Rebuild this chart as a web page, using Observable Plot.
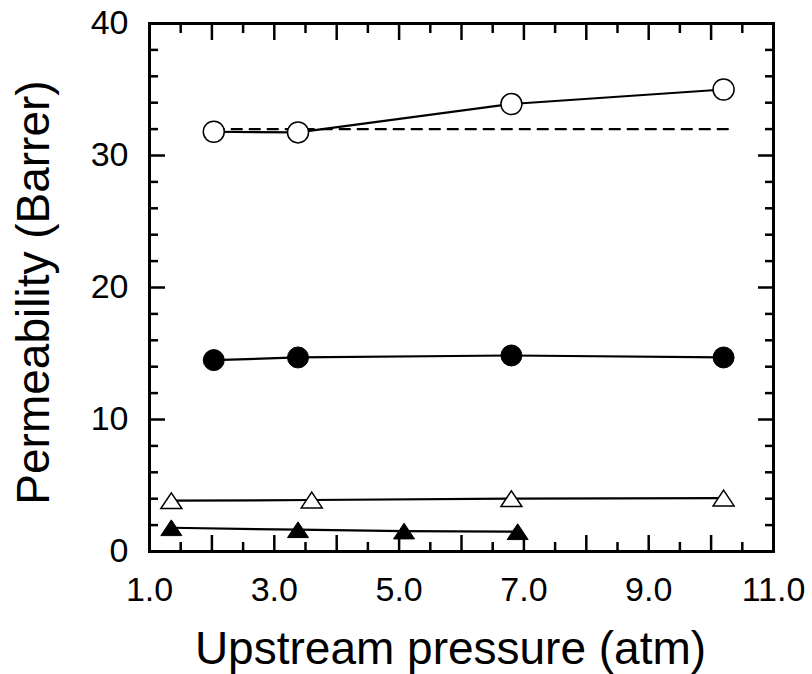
<!DOCTYPE html>
<html>
<head>
<meta charset="utf-8">
<script src="https://cdn.jsdelivr.net/npm/d3@7"></script>
<script src="https://cdn.jsdelivr.net/npm/@observablehq/plot@0.6"></script>
<style>
  html, body { margin: 0; padding: 0; background: #fff; }
</style>
</head>
<body>
<div id="chart"></div>
<script>
// Open circles
const openCircleP = [2.03, 3.38, 6.8, 10.2];
const openCircleK = [31.8, 31.75, 33.9, 35.0];
// Dashed reference line
const dashP = [2.03, 10.35];
const dashK = [32.0, 32.0];
// Filled circles
const filledCircleP = [2.03, 3.38, 6.8, 10.2];
const filledCircleK = [14.5, 14.7, 14.85, 14.7];
// Open triangles
const openTriP = [1.35, 3.6, 6.8, 10.2];
const openTriK = [3.85, 3.9, 4.0, 4.05];
// Filled triangles
const filledTriP = [1.35, 3.38, 5.08, 6.9];
const filledTriK = [1.8, 1.65, 1.55, 1.5];

// Ticks
const xLabelTicks = [1, 3, 5, 7, 9, 11];
const xMajorTicks = [1, 2, 3, 4, 5, 6, 7, 8, 9, 10, 11];
const xMinorTicks = [1.5, 2.5, 3.5, 4.5, 5.5, 6.5, 7.5, 8.5, 9.5, 10.5];
const yMajorTicks = [0, 10, 20, 30, 40];
const yMinorTicks = [2, 4, 6, 8, 12, 14, 16, 18, 22, 24, 26, 28, 32, 34, 36, 38];

const zip = (xs, ys) => xs.map((x, i) => ({x, y: ys[i]}));
const openCircles = zip(openCircleP, openCircleK);
const dashed = zip(dashP, dashK);
const filledCircles = zip(filledCircleP, filledCircleK);
const openTris = zip(openTriP, openTriK);
const filledTris = zip(filledTriP, filledTriK);

// Triangle symbol (wider than tall), centered on its bounding box
const tri = {
  draw(context, size) {
    const r = Math.sqrt(size / Math.PI);
    const hw = r, h = r * 1.5;
    context.moveTo(0, -h / 2);
    context.lineTo(hw, h / 2);
    context.lineTo(-hw, h / 2);
    context.closePath();
  }
};

const tickStyle = {strokeWidth: 2.5, tickFormat: () => "", label: null};

const chart = Plot.plot({
  width: 812,
  height: 674,
  marginLeft: 149,
  marginRight: 39,
  marginTop: 23,
  marginBottom: 123,
  style: {fontFamily: "Arial, 'Liberation Sans', sans-serif", color: "black", background: "white"},
  x: {domain: [1, 11]},
  y: {domain: [0, 40]},
  marks: [
    // inward ticks
    Plot.axisX(xMajorTicks, {anchor: "bottom", tickSize: -16, ...tickStyle}),
    Plot.axisX(xMinorTicks, {anchor: "bottom", tickSize: -9, ...tickStyle}),
    Plot.axisX(xMajorTicks, {anchor: "top", tickSize: -16, ...tickStyle}),
    Plot.axisX(xMinorTicks, {anchor: "top", tickSize: -9, ...tickStyle}),
    Plot.axisY(yMajorTicks, {anchor: "left", tickSize: -16, ...tickStyle}),
    Plot.axisY(yMinorTicks, {anchor: "left", tickSize: -9, ...tickStyle}),
    Plot.axisY(yMajorTicks, {anchor: "right", tickSize: -16, ...tickStyle}),
    Plot.axisY(yMinorTicks, {anchor: "right", tickSize: -9, ...tickStyle}),
    // tick labels
    Plot.text(xLabelTicks, {x: d => d, frameAnchor: "bottom", lineAnchor: "bottom", dy: 49, fontSize: 34, fill: "black", text: d => d.toFixed(1)}),
    Plot.text(yMajorTicks, {y: d => d, frameAnchor: "left", textAnchor: "end", lineAnchor: "middle", dx: -21, fontSize: 34, fill: "black", text: d => String(d)}),
    // axis titles
    Plot.text(["Upstream pressure (atm)"], {frameAnchor: "bottom", textAnchor: "middle", lineAnchor: "bottom", dx: -11, dy: 112, fontSize: 46, fill: "black"}),
    Plot.text(["Permeability (Barrer)"], {frameAnchor: "left", textAnchor: "middle", lineAnchor: "bottom", rotate: -90, dx: -101, dy: 5, fontSize: 46, fill: "black"}),
    // series
    Plot.line(dashed, {x: "x", y: "y", stroke: "black", strokeWidth: 2.4, strokeDasharray: "10,8"}),
    Plot.line(openCircles, {x: "x", y: "y", stroke: "black", strokeWidth: 2.2}),
    Plot.line(filledCircles, {x: "x", y: "y", stroke: "black", strokeWidth: 2.2}),
    Plot.line(openTris, {x: "x", y: "y", stroke: "black", strokeWidth: 2.2}),
    Plot.line(filledTris, {x: "x", y: "y", stroke: "black", strokeWidth: 2.2}),
    Plot.dot(openCircles, {x: "x", y: "y", r: 10.5, fill: "white", stroke: "black", strokeWidth: 1.5}),
    Plot.dot(filledCircles, {x: "x", y: "y", r: 10.5, fill: "black", stroke: "black", strokeWidth: 1}),
    Plot.dot(openTris, {x: "x", y: "y", r: 10.5, symbol: tri, fill: "white", stroke: "black", strokeWidth: 1.5}),
    Plot.dot(filledTris, {x: "x", y: "y", r: 10.5, symbol: tri, fill: "black", stroke: "black", strokeWidth: 1}),
    Plot.frame({stroke: "black", strokeWidth: 3})
  ]
});
document.getElementById("chart").appendChild(chart);
</script>
</body>
</html>
